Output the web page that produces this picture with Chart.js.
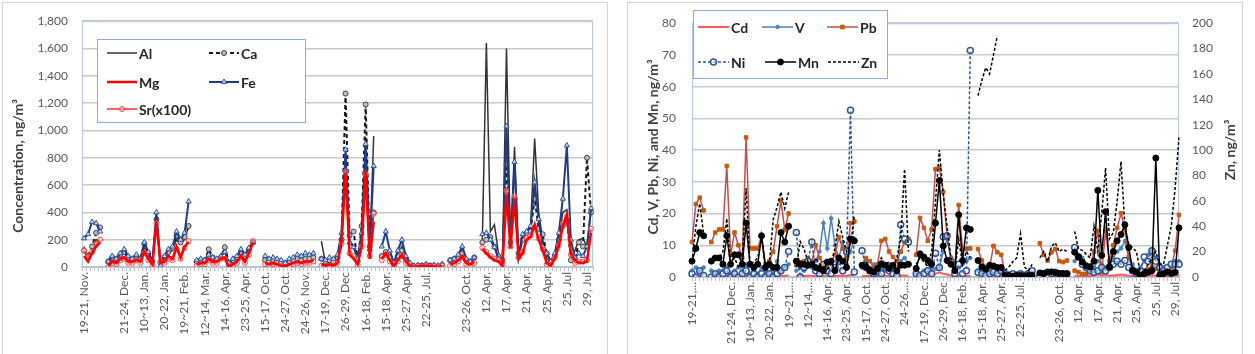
<!DOCTYPE html>
<html lang="en">
<head>
  <meta charset="UTF-8" />
  <title>Element concentrations</title>
  <script src="https://cdn.jsdelivr.net/npm/chart.js"></script>
  <style>
    body {
      margin: 0;
      background: #fff;
      font-family: Lato, 'Open Sans', sans-serif;
    }
    .frame {
      position: absolute;
      top: 2px;
      height: 400px;
      border: 1px solid #d4d4d4;
      box-sizing: border-box;
    }
    #leftFrame { left: 2px; width: 606px; }
    #rightFrame { left: 627px; width: 616px; }
    .box {
      position: absolute;
      top: 0;
      height: 354px;
    }
    #leftBox { left: 0; width: 607px; }
    #rightBox { left: 625px; width: 617px; }
  </style>
</head>
<body>

  <div class="frame" id="leftFrame"></div>
  <div class="frame" id="rightFrame"></div>
  <div class="box" id="leftBox"><canvas id="majorChart"></canvas></div>
  <div class="box" id="rightBox"><canvas id="traceChart"></canvas></div>

  <script>
    // 127 sampling slots on each category axis, one label every 5 slots
    const NCAT = 127;
    const SLOT = 5;

    const leftLabels = ['19-21, Nov.', '', '21-24, Dec.', '10~13, Jan.', '20-22, Jan.', '19~21, Feb.',
      '12~14, Mar.', '14-16, Apr.', '23-25, Apr.', '15-17, Oct.', '24-27, Oct.', '24-26, Nov.',
      '17-19, Dec.', '26-29, Dec', '16-18, Feb.', '15-18, Apr.', '25-27, Apr.', '22-25, Jul.', '',
      '23-26, Oct.', '12, Apr.', '17, Apr.', '21, Apr.', '25, Apr.', '25, Jul', '29, Jul'];
    const rightLabels = ['19-21,...', '', '21-24, Dec.', '10~13, Jan.', '20-22, Jan.', '19~21,...',
      '12~14,...', '14-16, Apr.', '23-25, Apr.', '15-17, Oct.', '24-27, Oct.', '24-26,...',
      '17-19, Dec.', '26-29, Dec', '16-18, Feb.', '15-18, Apr.', '25-27, Apr.', '22-25, Jul.', '',
      '23-26, Oct.', '12, Apr.', '17, Apr.', '21, Apr.', '25, Apr.', '25, Jul', '29, Jul'];

    // ---- major elements (ng/m3), one sub-array per sampling run ----
    const leftRunStart = [0, 6, 28, 45, 59, 74, 91, 99];
    const alRuns = [
      [150, 60, 120, 200, 190],
      [30, 60, 50, 80, 100, 60, 50, 70, 50, 150, 90, 30, 320, 20, 60, 100, 120, 200, 170, 200, 300],
      [40, 50, 40, 110, 60, 50, 60, 140, 20, 40, 60, 100, 70, 120, 170],
      [50, 40, 50, 40, 30, 20, 40, 50, 60, 50, 70, 60, 70],
      [190, 30, 60, 50, 70, 150, 800, 200, 150, 90, 200, 950, 120, 960],
      [80, 120, 80, 20, 90, 150, 70, 20, 10, 10, 10, 15, 10, 10, 10, 15],
      [40, 50, 80, 140, 50, 30, 60],
      [200, 1640, 260, 310, 100, 30, 1600, 150, 880, 60, 200, 260, 300, 940, 400, 200, 60, 40, 100, 200, 400, 420, 80, 120, 200, 210, 150, 400]
    ];
    const caRuns = [
      [120, 80, 150, 250, 290],
      [40, 70, 60, 90, 110, 70, 60, 80, 60, 170, 100, 40, 350, 30, 70, 110, 140, 230, 180, 220, 300],
      [40, 50, 50, 130, 70, 50, 70, 145, 30, 50, 70, 110, 80, 130, 180],
      [50, 40, 50, 40, 30, 20, 40, 50, 60, 50, 60, 60, 70],
      [60, 40, 50, 40, 70, 200, 1270, 230, 260, 40, 300, 1190, 150, 400],
      [80, 110, 70, 20, 80, 120, 60, 20, 5, 10, 10, 15, 10, 10, 5, 15],
      [50, 60, 70, 100, 50, 40, 70],
      [180, 200, 220, 150, 80, 50, 750, 180, 500, 100, 200, 250, 260, 500, 280, 240, 100, 40, 80, 200, 300, 350, 50, 60, 180, 150, 800, 400]
    ];
    const mgRuns = [
      [80, 40, 100, 150, 180],
      [10, 40, 30, 60, 70, 40, 40, 50, 40, 110, 60, 20, 330, 30, 40, 80, 60, 150, 70, 150, 180],
      [20, 30, 30, 60, 40, 40, 60, 70, 0, 20, 40, 80, 40, 100, 180],
      [30, 20, 30, 20, 10, 5, 20, 30, 40, 30, 40, 40, 50],
      [20, 10, 20, 10, 30, 180, 690, 90, 60, 20, 150, 700, 60, 330],
      [60, 100, 50, 10, 50, 90, 40, 10, 0, 5, 5, 10, 5, 5, 0, 10],
      [20, 30, 50, 80, 30, 20, 40],
      [130, 100, 70, 50, 40, 10, 520, 140, 500, 60, 100, 200, 220, 310, 200, 120, 30, 10, 60, 150, 300, 380, 100, 50, 30, 30, 40, 250]
    ];
    const feRuns = [
      [210, 240, 330, 320, 260],
      [40, 80, 60, 100, 130, 80, 60, 90, 60, 180, 110, 40, 400, 10, 80, 130, 150, 260, 200, 250, 480],
      [50, 60, 50, 90, 70, 60, 80, 110, 30, 60, 80, 130, 90, 140, 180],
      [80, 60, 70, 60, 50, 30, 60, 70, 90, 80, 100, 90, 100],
      [60, 50, 70, 60, 90, 250, 860, 180, 145, 60, 250, 900, 130, 740],
      [150, 260, 120, 30, 120, 200, 80, 30, 10, 15, 10, 20, 10, 15, 10, 20],
      [50, 60, 90, 150, 60, 40, 70],
      [240, 250, 200, 145, 60, 40, 1030, 150, 770, 80, 240, 260, 300, 620, 350, 150, 100, 40, 100, 250, 500, 890, 200, 70, 100, 80, 150, 430]
    ];
    const srRuns = [
      [120, 70, 110, 170, 200],
      [0, 30, 20, 50, 60, 30, 30, 50, 30, 100, 50, 10, 320, 40, 30, 60, 50, 130, 60, 140, 190],
      [10, 20, 20, 50, 30, 30, 60, 60, 0, 10, 30, 70, 30, 90, 190],
      [20, 10, 20, 10, 5, 0, 10, 20, 30, 20, 30, 30, 40],
      [10, 0, 10, 10, 30, 170, 700, 100, 80, 15, 150, 680, 80, 390],
      [50, 90, 40, 5, 40, 80, 30, 5, 0, 5, 0, 10, 0, 5, 0, 10],
      [10, 20, 40, 70, 20, 10, 30],
      [140, 110, 80, 60, 50, 20, 560, 150, 520, 70, 110, 210, 230, 290, 210, 130, 20, 15, 70, 160, 320, 370, 90, 30, 40, 40, 50, 280]
    ];

    // ---- trace elements (ng/m3); Zn is read on the right axis ----
    const rightRunStart = [0, 5, 27, 44, 58, 74, 90, 99];
    const cdRuns = [
      [0.3, 0.3, 0.3, 0.3],
      [0.3, 0.3, 0.4, 0.3, 0.5, 0.3, 0.3, 0.4, 0.3, 0.5, 0.3, 0.3, 0.3, 0.4, 0.3, 0.3, 0.3, 0.4, 0.5, 0.4, 0.5],
      [0.3, 0.3, 0.3, 0.4, 0.4, 0.3, 0.3, 0.4, 0.5, 0.4, 0.3, 0.4, 0.5, 0.4, 0.6, 0.5],
      [0.3, 0.4, 0.3, 0.3, 0.4, 0.5, 0.4, 0.3, 0.3, 0.4, 0.5, 0.5, 0.4],
      [0.3, 0.3, 0.4, 0.5, 0.7, 1, 1.5, 1, 0.8, 0.5, 0.3, 0.4, 0.3, 0.3, 0.3],
      [0.3, 0.3, 0.2, 0.3, 0.4, 0.3, 0.3, 0.2, 0.2, 0.2, 0.2, 0.2, 0.2, 0.2, 0.2],
      [0.3, 0.3, 0.4, 0.3, 0.4, 0.3, 0.3, 0.3],
      [0.4, 0.3, 0.3, 0.3, 0.3, 0.5, 0.8, 0.5, 0.7, 0.4, 0.5, 0.6, 0.8, 0.6, 0.4, 0.3, 0.3, 0.3, 0.4, 0.5, 0.6, 0.4, 0.3, 0.3, 0.3, 0.4, 0.5, 0.6]
    ];
    const vRuns = [
      [2, 3, 2, 3],
      [2, 1, 2, 2, 3, 1, 2, 3, 2, 4, 1, 2, 1, 3, 2, 1, 1, 5, 2, 3, 4],
      [2, 3, 2, 4, 3, 5, 8, 17, 9, 18.5, 10, 6, 11, 4, 8, 12],
      [3, 5, 2, 4, 1, 3, 2, 4, 2, 1, 5, 6, 4],
      [1, 1, 2, 2, 3, 2.5, 3, 8, 12, 6, 2, 3, 4, 5, 6],
      [2, 1, 2, 1, 1, 2, 1, 0.5, 1, 0.5, 1, 0.5, 1, 1, 1.5],
      [1, 1.5, 1, 2, 1, 1.5, 1, 1],
      [5, 7, 6, 4, 2, 3, 5, 4, 3, 4, 6, 8, 9, 11.4, 6, 4, 2, 3, 5, 7, 8.8, 6, 4, 3, 2, 3, 5, 5]
    ];
    const pbRuns = [
      [11, 23, 25, 21],
      [11, 14, 15, 15, 35, 7, 14, 10, 6, 44, 9, 9, 9, 13, 4, 5, 8, 16, 24, 15, 20],
      [3.7, 4.7, 5, 6, 5, 10, 6, 4, 3, 5, 7, 12.5, 9, 6, 17, 17.5],
      [4, 6, 5, 3, 4, 11.4, 12, 8, 6.3, 5, 8, 11, 12],
      [7, 18.6, 15.5, 11.4, 15, 34, 34.5, 26.8, 12.4, 6, 2, 22.7, 8.8, 8.8, 9],
      [8.8, 5.2, 3, 3, 9.8, 7.8, 7, 1, 1, 0.5, 1, 1, 0.5, 1, 1],
      [10.6, 7, 5.2, 7.8, 8.8, 5, 4.7, 5.2],
      [2, 1.5, 1, 1, 3, 8, 14.5, 1.5, 14.5, 5, 10, 15.5, 20.1, 15, 6.3, 2, 1.5, 1, 2, 2.5, 3.2, 2.7, 1.5, 1, 2, 3, 8.3, 19.6]
    ];
    const niRuns = [
      [1, 0, 2, 0.5],
      [0, 1, 0, 1, 2, 0, 1, 0, 1, 2, 0, 1, 0, 1, 0, 1, 0, 1, 2, 3, 8],
      [14, 0, 3, 5, 11, 2, 1, 4, 2, 1, 3, 5, 2, 8, 52.6, 1.6],
      [8.3, 3, 2, 1, 2, 1, 3, 2, 1, 0.5, 16.5, 12, 11],
      [1, 0.5, 1, 2, 1, 7.5, 3, 12.7, 13, 5, 1, 4, 1, 2, 71.4],
      [1.5, 1, 0.5, 1, 1.5, 1, 2, 1, 0.5, 1, 0.5, 1, 0.5, 1, 2],
      [0.5, 1, 0.5, 1, 1.5, 1, 0.5, 1],
      [9.3, 6.3, 4, 3, 2, 1.5, 2, 3, 2, 3, 4, 5, 4, 5.2, 3, 2, 1, 2, 6.3, 5, 8.3, 5, 3, 2, 3, 4, 4, 4]
    ];
    const mnRuns = [
      [5, 9, 14, 13],
      [5, 6, 6, 4, 13, 4, 7, 7, 4, 17, 4, 3, 4, 13, 3, 4, 3, 3, 14, 11, 16],
      [5, 4, 4, 3.7, 4, 3, 2.7, 2, 4.7, 5, 2, 6, 5, 3, 12, 11.4],
      [3.7, 3.2, 2, 1.6, 2.7, 4.2, 3.7, 2.7, 3.7, 2, 3.7, 3.7, 4],
      [2.7, 7.3, 6.3, 5.2, 4, 17, 30.4, 9.8, 5.2, 4, 2, 19.6, 5.2, 15.5, 15],
      [5.2, 3.2, 2.5, 3.7, 3.5, 3, 3, 0.5, 0.5, 0.3, 0.5, 0.5, 0.3, 0.5, 0.5],
      [1.3, 1.1, 1.6, 1.6, 1.3, 1.1, 1.1, 1],
      [7.8, 6.3, 4.7, 3.5, 3.2, 5, 27.3, 6.8, 20.6, 3.2, 8, 11.4, 13.4, 16.5, 9.3, 2.1, 1.5, 0.5, 1, 1.5, 2, 37.5, 0.6, 1.1, 1.6, 1.1, 1.5, 15.5]
    ];
    const znRuns = [
      [12, 40, 58, 34],
      [14, 16, 15, 20, 46, 10, 15, 8, 12, 70, 10, 12, 15, 30, 8, 10, 45, 55, 67, 54, 67],
      [8, 28, 22, 12, 8, 15, 10, 8, 6, 10, 23, 44, 31, 20, 25, 49],
      [10, 12, 8, 5, 8, 15, 10, 12, 8, 15, 30, 85, 20],
      [10, 15, 12, 8, 20, 60, 100, 65, 40, 15, 5, 30, 10, 20, 15],
      [143, 155, 165, 160, 175, 190, null, 5, 8, 12, 15, 34, 8, 5, 10],
      [15, 20, 12, 24, 27, 20, 22, 20],
      [36, 22, 21, 18, 15, 40, 20, 50, 86, 30, 35, 60, 91, 40, 26, 23, 20, 3, 5, 10, 15, 20, 10, 10, 25, 40, 70, 110]
    ];

    const FONT = 'Lato, "Open Sans", sans-serif';
    const TICK_COLOR = '#595959';
    const GRID_COLOR = '#c8c8c8';

    function expandLabels(list) {
      const out = [];
      for (let i = 0; i < NCAT; i++) out.push(i % SLOT === 0 ? (list[i / SLOT] || '') : '');
      return out;
    }

    // put every run at its starting slot, null in between so lines break
    function place(starts, runs) {
      const out = new Array(NCAT).fill(null);
      runs.forEach((run, r) => run.forEach((v, i) => { out[starts[r] + i] = v; }));
      return out;
    }

    function markerPath(ctx, style, x, y, r) {
      ctx.beginPath();
      if (style === 'triangle') {
        ctx.moveTo(x, y - r);
        ctx.lineTo(x + r * 0.87, y + r * 0.5);
        ctx.lineTo(x - r * 0.87, y + r * 0.5);
        ctx.closePath();
      } else if (style === 'rect') {
        ctx.rect(x - r * 0.75, y - r * 0.75, r * 1.5, r * 1.5);
      } else {
        ctx.arc(x, y, r, 0, Math.PI * 2);
      }
    }

    // plot-area frame, rotated axis titles and the legend drawn inside the plot
    const decorations = {
      id: 'decorations',
      beforeDatasetsDraw(chart, args, opts) {
        const { ctx, chartArea: a } = chart;
        ctx.save();
        ctx.strokeStyle = '#b4c7e7';
        ctx.lineWidth = 1;
        ctx.strokeRect(a.left + 0.5, a.top + 0.5, a.right - a.left - 1, a.bottom - a.top);
        ctx.restore();
      },
      afterDraw(chart, args, opts) {
        const { ctx } = chart;
        ctx.save();
        ctx.font = 'bold 14px ' + FONT;
        ctx.fillStyle = '#404040';
        ctx.textAlign = 'center';
        ctx.textBaseline = 'middle';
        opts.titles.forEach(t => {
          ctx.save();
          ctx.translate(t.x, t.y);
          ctx.rotate(-Math.PI / 2);
          ctx.fillText(t.text, 0, 0);
          ctx.restore();
        });

        const b = opts.legend.box;
        ctx.fillStyle = '#fff';
        ctx.fillRect(b.x, b.y, b.w, b.h);
        ctx.strokeStyle = '#8faadc';
        ctx.lineWidth = 1;
        ctx.strokeRect(b.x + 0.5, b.y + 0.5, b.w, b.h);

        const len = opts.legend.sample;
        opts.legend.items.forEach(it => {
          const ds = chart.data.datasets[it.ds];
          ctx.strokeStyle = ds.borderColor;
          ctx.lineWidth = Math.min(ds.borderWidth, 2.5);
          ctx.setLineDash(ds.borderDash || []);
          ctx.beginPath();
          ctx.moveTo(it.x, it.y);
          ctx.lineTo(it.x + len, it.y);
          ctx.stroke();
          ctx.setLineDash([]);
          if (ds.pointRadius > 0) {
            ctx.fillStyle = ds.pointBackgroundColor;
            ctx.strokeStyle = ds.pointBorderColor;
            ctx.lineWidth = ds.pointBorderWidth;
            markerPath(ctx, ds.pointStyle, it.x + len / 2, it.y, ds.pointRadius);
            ctx.fill();
            ctx.stroke();
          }
          ctx.fillStyle = '#262626';
          ctx.font = 'bold 14px ' + FONT;
          ctx.textAlign = 'left';
          ctx.fillText(ds.label, it.x + len + 2, it.y + 1);
        });
        ctx.restore();
      }
    };

    function line(label, data, style) {
      return Object.assign({
        label: label,
        data: data,
        fill: false,
        tension: 0,
        spanGaps: false,
        pointRadius: 0,
        pointBorderWidth: 1,
        pointStyle: 'circle'
      }, style);
    }

    function xAxis(labels, offset, height) {
      return {
        type: 'category',
        labels: labels,
        offset: offset,
        grid: { drawOnChartArea: false, drawTicks: true, tickLength: 4, color: '#bfbfbf', offset: offset },
        border: { display: true, color: '#bfbfbf', width: 1.5 },
        ticks: {
          autoSkip: false, maxRotation: 90, minRotation: 90, padding: 1,
          color: TICK_COLOR, font: { family: FONT, size: 12 }
        },
        afterFit: s => { s.height = height; }
      };
    }

    function yAxis(max, step, width, pad, position) {
      return {
        position: position,
        min: 0,
        max: max,
        grid: { color: GRID_COLOR, lineWidth: 1.5, drawTicks: false, drawOnChartArea: position === 'left' },
        border: { display: false },
        ticks: {
          stepSize: step, padding: pad, color: TICK_COLOR,
          font: { family: FONT, size: 12 },
          callback: v => v.toLocaleString('en-US')
        },
        afterFit: s => { s.width = width; }
      };
    }

    Chart.defaults.font.family = FONT;

    new Chart(document.getElementById('majorChart'), {
      type: 'line',
      data: {
        datasets: [
          line('Al', place(leftRunStart, alRuns), { borderColor: '#333333', borderWidth: 1.5, order: 5 }),
          line('Ca', place(leftRunStart, caRuns), {
            borderColor: '#1a1a1a', borderWidth: 2, borderDash: [4, 3], order: 4,
            pointRadius: 2.5, pointBackgroundColor: '#bfbfbf', pointBorderColor: '#404040'
          }),
          line('Mg', place(leftRunStart, mgRuns), { borderColor: '#ff0000', borderWidth: 2.5, order: 1 }),
          line('Fe', place(leftRunStart, feRuns), {
            borderColor: '#1f3c88', borderWidth: 2, order: 3,
            pointStyle: 'triangle', pointRadius: 3, pointBackgroundColor: '#c9d6ee', pointBorderColor: '#2f5597'
          }),
          line('Sr(x100)', place(leftRunStart, srRuns), {
            borderColor: '#f03030', borderWidth: 1.5, order: 2,
            pointRadius: 2.5, pointBackgroundColor: 'rgba(255,255,255,0.3)', pointBorderColor: '#ff4040'
          })
        ]
      },
      options: {
        responsive: true,
        maintainAspectRatio: false,
        animation: false,
        layout: { padding: { top: 15, right: 14, left: 0, bottom: 0 } },
        scales: {
          x: xAxis(expandLabels(leftLabels), true, 87),
          y: yAxis(1800, 200, 82, 14, 'left')
        },
        plugins: {
          legend: { display: false },
          tooltip: { enabled: false },
          decorations: {
            titles: [{ text: 'Concentration, ng/m³', x: 18, y: 166 }],
            legend: {
              box: { x: 97, y: 39, w: 208, h: 83 },
              sample: 30,
              items: [
                { ds: 0, x: 107, y: 53 }, { ds: 1, x: 209, y: 53 },
                { ds: 2, x: 107, y: 82 }, { ds: 3, x: 209, y: 82 },
                { ds: 4, x: 107, y: 109 }
              ]
            }
          }
        }
      },
      plugins: [decorations]
    });

    new Chart(document.getElementById('traceChart'), {
      type: 'line',
      data: {
        datasets: [
          line('Cd', place(rightRunStart, cdRuns), { borderColor: '#ff5b5b', borderWidth: 2, order: 6 }),
          line('V', place(rightRunStart, vRuns), {
            borderColor: '#4f81bd', borderWidth: 1.5, order: 5,
            pointRadius: 1.8, pointBackgroundColor: '#4f81bd', pointBorderColor: '#4f81bd'
          }),
          line('Pb', place(rightRunStart, pbRuns), {
            borderColor: '#c0504d', borderWidth: 1.5, order: 4,
            pointStyle: 'rect', pointRadius: 2.5, pointBackgroundColor: '#c55a11', pointBorderColor: '#c55a11'
          }),
          line('Ni', place(rightRunStart, niRuns), {
            borderColor: '#2f5597', borderWidth: 1.5, borderDash: [3, 2], order: 3,
            pointRadius: 3, pointBorderWidth: 1.5, pointBackgroundColor: 'rgba(255,255,255,0.5)', pointBorderColor: '#2f5597'
          }),
          line('Mn', place(rightRunStart, mnRuns), {
            borderColor: '#000000', borderWidth: 1.5, order: 2,
            pointRadius: 3, pointBackgroundColor: '#000000', pointBorderColor: '#000000'
          }),
          line('Zn', place(rightRunStart, znRuns), {
            borderColor: '#000000', borderWidth: 1.5, borderDash: [3, 2], order: 1, yAxisID: 'y2'
          })
        ]
      },
      options: {
        responsive: true,
        maintainAspectRatio: false,
        animation: false,
        layout: { padding: { top: 17, right: 0, left: 0, bottom: 0 } },
        scales: {
          x: xAxis(expandLabels(rightLabels), false, 77),
          y: yAxis(80, 10, 67, 16, 'left'),
          y2: yAxis(200, 20, 63, 13, 'right')
        },
        plugins: {
          legend: { display: false },
          tooltip: { enabled: false },
          decorations: {
            titles: [
              { text: 'Cd, V, Pb, Ni, and Mn, ng/m³', x: 28, y: 147 },
              { text: 'Zn, ng/m³', x: 605, y: 150 }
            ],
            legend: {
              box: { x: 68, y: 10, w: 194, h: 68 },
              sample: 31,
              items: [
                { ds: 0, x: 73, y: 27 }, { ds: 1, x: 137, y: 27 }, { ds: 2, x: 202, y: 27 },
                { ds: 3, x: 73, y: 62 }, { ds: 4, x: 140, y: 62 }, { ds: 5, x: 203, y: 62 }
              ]
            }
          }
        }
      },
      plugins: [decorations]
    });
  </script>

</body>
</html>
